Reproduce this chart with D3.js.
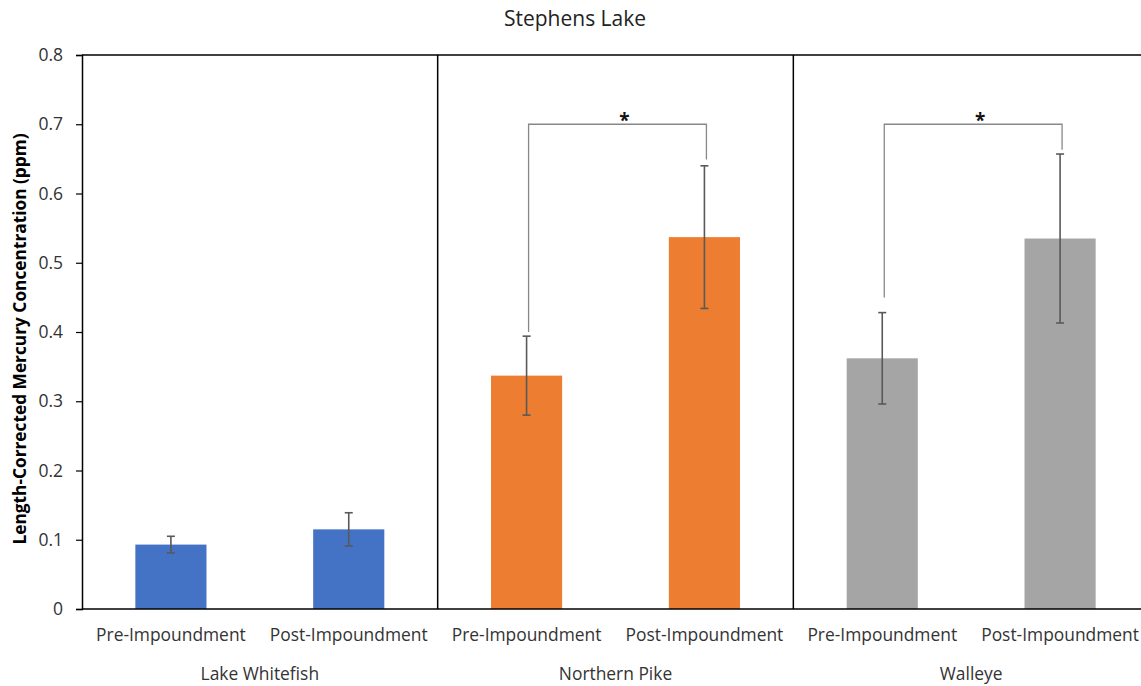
<!DOCTYPE html>
<html>
<head>
<meta charset="utf-8">
<script src="https://cdn.jsdelivr.net/npm/d3@7"></script>
<style>
  html, body { margin: 0; padding: 0; background: #fff; }
  svg { display: block; font-family: "Open Sans", "Noto Sans", sans-serif; }
</style>
</head>
<body>
<svg id="chart" width="1141" height="686"></svg>
<script>
// Species groups and the two sampling periods within each
const species = ["Lake Whitefish", "Northern Pike", "Walleye"];
const periods = ["Pre-Impoundment", "Post-Impoundment"];
const speciesColors = ["#4472C4", "#ED7D31", "#A5A5A5"];

// Mean length-corrected mercury (ppm) per species, [pre, post]
const meanWhitefish = [0.093, 0.115];
const meanPike = [0.337, 0.537];
const meanWalleye = [0.362, 0.535];

// Error bar half-widths (ppm), [pre, post]
const errWhitefish = [0.012, 0.024];
const errPike = [0.057, 0.103];
const errWalleye = [0.066, 0.122];

// Significance brackets: species, bracket level, left leg end, right leg end
const sigSpecies = ["Northern Pike", "Walleye"];
const sigLevel = [0.70, 0.70];
const sigLeftEnd = [0.400, 0.450];
const sigRightEnd = [0.649, 0.663];

const yTicks = [0, 0.1, 0.2, 0.3, 0.4, 0.5, 0.6, 0.7, 0.8];

const means = [meanWhitefish, meanPike, meanWalleye];
const errs = [errWhitefish, errPike, errWalleye];

const rows = [];
species.forEach((s, i) => {
  periods.forEach((p, j) => {
    rows.push({ species: s, period: p, value: means[i][j], err: errs[i][j], color: speciesColors[i] });
  });
});

const svg = d3.select("#chart");
const plotLeft = 82, plotTop = 55, plotBottom = 609, plotRight = 1149;

const x0 = d3.scaleBand().domain(species).range([plotLeft, plotRight]).padding(0);
const x1 = d3.scaleBand().domain(periods).range([0, x0.bandwidth()]).paddingInner(0.6).paddingOuter(0.3);
const y = d3.scaleLinear().domain([0, 0.8]).range([plotBottom, plotTop]);

// Title
svg.append("text")
  .attr("x", 575).attr("y", 26)
  .attr("text-anchor", "middle")
  .attr("font-size", 21).attr("fill", "#222")
  .text("Stephens Lake");

// Bars
svg.append("g").selectAll("rect").data(rows).join("rect")
  .attr("x", d => x0(d.species) + x1(d.period))
  .attr("y", d => y(d.value))
  .attr("width", x1.bandwidth())
  .attr("height", d => y(0) - y(d.value))
  .attr("fill", d => d.color);

// Error bars
const errG = svg.append("g").attr("stroke", "#595959").attr("stroke-width", 1.6).attr("fill", "none");
rows.forEach(d => {
  const cx = x0(d.species) + x1(d.period) + x1.bandwidth() / 2;
  const yt = y(d.value + d.err), yb = y(d.value - d.err);
  errG.append("line").attr("x1", cx).attr("x2", cx).attr("y1", yt).attr("y2", yb);
  errG.append("line").attr("x1", cx - 4).attr("x2", cx + 4).attr("y1", yt).attr("y2", yt);
  errG.append("line").attr("x1", cx - 4).attr("x2", cx + 4).attr("y1", yb).attr("y2", yb);
});

// Significance brackets
const sigG = svg.append("g");
sigSpecies.forEach((s, i) => {
  const xl = x0(s) + x1(periods[0]) + x1.bandwidth() / 2 + 2;
  const xr = x0(s) + x1(periods[1]) + x1.bandwidth() / 2 + 2;
  const path = d3.path();
  path.moveTo(xl, y(sigLeftEnd[i]));
  path.lineTo(xl, y(sigLevel[i]));
  path.lineTo(xr, y(sigLevel[i]));
  path.lineTo(xr, y(sigRightEnd[i]));
  sigG.append("path").attr("d", path.toString())
    .attr("fill", "none").attr("stroke", "#888").attr("stroke-width", 1.3);
  sigG.append("text")
    .attr("x", (xl + xr) / 2 + 7).attr("y", y(sigLevel[i]) + 3)
    .attr("text-anchor", "middle").attr("font-size", 19).attr("font-weight", "bold")
    .attr("fill", "#111")
    .text("*");
});

// Frame: top line, group separators
const frame = svg.append("g").attr("stroke", "#000").attr("stroke-width", 1.5);
frame.append("line").attr("x1", plotLeft).attr("x2", plotRight).attr("y1", plotTop).attr("y2", plotTop);
species.slice(1).forEach(s => {
  frame.append("line").attr("x1", x0(s)).attr("x2", x0(s)).attr("y1", plotTop).attr("y2", plotBottom);
});

// Y axis
const yAxis = svg.append("g").attr("transform", `translate(${plotLeft},0)`)
  .call(d3.axisLeft(y).tickValues(yTicks).tickSize(6).tickPadding(13)
    .tickFormat(d => d === 0 ? "0" : d3.format(".1f")(d)));
yAxis.select(".domain").attr("stroke", "#000").attr("stroke-width", 1.5);
yAxis.selectAll(".tick line").attr("stroke", "#000").attr("stroke-width", 1.2);
yAxis.selectAll(".tick text").attr("font-size", 17.5).attr("fill", "#333")
  .attr("font-family", "\"Open Sans\", sans-serif");

// Baseline
svg.append("line").attr("x1", plotLeft).attr("x2", plotRight).attr("y1", plotBottom).attr("y2", plotBottom)
  .attr("stroke", "#000").attr("stroke-width", 1.5);

// Period labels
svg.append("g").selectAll("text").data(rows).join("text")
  .attr("x", d => x0(d.species) + x1(d.period) + x1.bandwidth() / 2)
  .attr("y", 641)
  .attr("text-anchor", "middle").attr("font-size", 17.4).attr("fill", "#333")
  .text(d => d.period);

// Species labels
svg.append("g").selectAll("text").data(species).join("text")
  .attr("x", d => x0(d) + x0.bandwidth() / 2)
  .attr("y", 680)
  .attr("text-anchor", "middle").attr("font-size", 17.4).attr("fill", "#333")
  .text(d => d);

// Y axis title
svg.append("text")
  .attr("transform", "translate(26,339) rotate(-90)")
  .attr("text-anchor", "middle").attr("font-size", 17.3).attr("font-weight", "bold")
  .attr("fill", "#000")
  .text("Length-Corrected Mercury Concentration (ppm)");
</script>
</body>
</html>
